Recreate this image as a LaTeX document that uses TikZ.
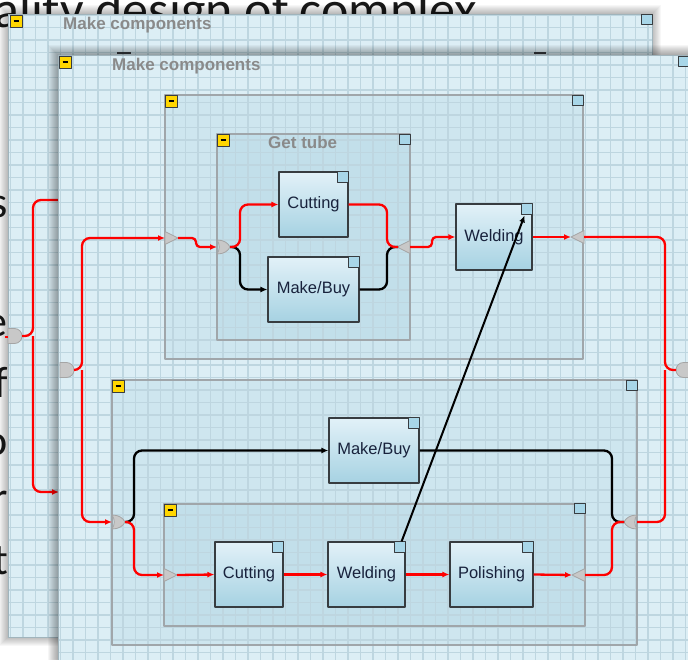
\documentclass[tikz,border=0pt]{standalone}
\usepackage{fontspec}
\setmainfont{Liberation Sans}
\newfontfamily\slidefont{Carlito}
\usetikzlibrary{arrows.meta,calc}
\definecolor{winfill}{RGB}{220,238,245}
\definecolor{gridc}{RGB}{190,214,224}
\definecolor{winline}{RGB}{160,180,188}
\definecolor{grpov}{RGB}{143,195,214}
\definecolor{grpline}{RGB}{160,166,170}
\definecolor{boxtop}{RGB}{226,241,248}
\definecolor{boxbot}{RGB}{166,210,226}
\definecolor{boxline}{RGB}{55,60,64}
\definecolor{sqfill}{RGB}{168,214,232}
\definecolor{yel}{RGB}{255,214,0}
\definecolor{gatefill}{RGB}{200,200,200}
\definecolor{gateline}{RGB}{165,165,165}
\definecolor{titlec}{RGB}{138,138,138}
\definecolor{txtc}{RGB}{24,34,60}
\definecolor{flow}{RGB}{255,0,0}
\definecolor{slidetxt}{RGB}{25,25,25}
\begin{document}
\begin{tikzpicture}[x=1pt,y=-1pt,line join=round,
  win/.style={fill=winfill,draw=winline,line width=0.8pt},
  grp/.style={fill=grpov,fill opacity=0.18,draw=none},
  grpb/.style={draw=grpline,line width=1.4pt},
  act/.style={draw=boxline,line width=1.2pt,top color=boxtop,bottom color=boxbot,
    minimum height=65pt,inner sep=0pt,font=\fontsize{16.5}{18}\selectfont,text=txtc},
  sq/.style={draw=boxline,fill=sqfill,line width=1pt},
  redf/.style={draw=flow,line width=2.3pt,rounded corners=8pt},
  blkf/.style={draw=black,line width=2.3pt,rounded corners=8pt},
  tip/.style={-{Latex[length=7pt,width=6pt]}},
  gate/.style={fill=gatefill,draw=gateline,line width=0.8pt},
  ttl/.style={font=\bfseries\fontsize{17}{19}\selectfont,text=titlec,inner sep=0pt,anchor=base west},
  slide/.style={font=\slidefont\fontsize{44}{50}\selectfont,text=slidetxt,inner sep=0pt,anchor=base east},
  trir/.pic={\path[gate] (0,-6.5) -- (13,0) -- (0,6.5) -- cycle;},
  gor/.pic={\path[gate] (0,-7) .. controls (7,-7) and (11,-4) .. (13,0) .. controls (11,4) and (7,7) .. (0,7) .. controls (3,3) and (3,-3) .. (0,-7) -- cycle;},
  dport/.pic={\path[gate] (0,-7.5) -- (6.5,-7.5) arc[start angle=-90,end angle=90,radius=7.5] -- (0,7.5) -- cycle;},
  ymin/.pic={\draw[fill=yel,draw=boxline,line width=1pt] (0,0) rectangle (12,12);
             \draw[line width=1.3pt] (3.5,6) -- (8.5,6);},
]
\fill[white] (0,0) rectangle (688,659);
\useasboundingbox (0,0) rectangle (688,659);

% ---------- slide text behind ----------
\node[anchor=base west,inner sep=0pt,font=\slidefont\fontsize{52}{60}\selectfont,text=slidetxt] (stitle) at (-6,27) {ality design of complex};
\node[slide] (ls) at (8,217) {s};
\node[slide] (le) at (8,336) {e};
\node[slide] (lf) at (8,397) {f};
\node[slide] (lo) at (8,455) {o};
\node[slide] (lr) at (8,512) {r};
\node[slide] (lt) at (8,574) {t};

% ---------- back window ----------
\foreach \i in {1,...,9} {\fill[black,opacity=0.032] (8-\i,14-\i) rectangle (652+\i,637+\i);}
\draw[win] (8,14) rectangle (652,637);
\begin{scope}
  \clip (8,14) rectangle (652,637);
  \foreach \x in {10.5,23,...,660} {\draw[gridc,line width=1.1pt] (\x,14) -- (\x,637);}
  \foreach \y in {15,27.5,...,640} {\draw[gridc,line width=1.1pt] (8,\y) -- (652,\y);}
\end{scope}
\draw[winline,line width=0.8pt] (8,14) rectangle (652,637);
\pic at (10,15) {ymin};
\draw[sq] (641.5,14) rectangle (652,24.5);
\node[ttl] (btitle) at (63,29) {Make components};
\draw[boxline,line width=1.6pt] (117,53) -- (131,53);
\draw[boxline,line width=1.6pt] (534,53) -- (546,53);
% back flows
\pic at (8,336) {dport};
\coordinate (bP) at (22,336);
\coordinate (bJ) at (33,336);
\coordinate (bUp) at (62,200);
\coordinate (bDn) at (59,492);
\coordinate (bStub) at (5,337);
\draw[flow,line width=1.6pt] (bStub) -- (8,337);
\draw[redf] (bP) -- (bJ) |- (bUp);
\draw[redf,tip] (bJ) |- (bDn);

% ---------- front window ----------
\foreach \i in {1,...,10} {\fill[black,opacity=0.035] (58-\i,55-\i) rectangle (700,670);}
\fill[winfill] (58,55) rectangle (692,665);
% group fills
\fill[grp] (165,95) rectangle (583,359);
\fill[grp] (217,134) rectangle (410,340);
\fill[grp] (112,380) rectangle (637,645);
\fill[grp] (164,504) rectangle (585,626);
\begin{scope}
  \clip (58,55) rectangle (692,665);
  \foreach \x in {60.5,73,...,692} {\draw[gridc,line width=1.1pt] (\x,55) -- (\x,665);}
  \foreach \y in {65,77.5,...,665} {\draw[gridc,line width=1.1pt] (58,\y) -- (692,\y);}
\end{scope}
\draw[winline,line width=0.8pt] (58,55) rectangle (692,665);
% group borders
\draw[grpb] (165,95) rectangle (583,359);
\draw[grpb] (217,134) rectangle (410,340);
\draw[grpb] (112,380) rectangle (637,645);
\draw[grpb] (164,504) rectangle (585,626);
% minus and corner squares
\pic at (59,56) {ymin};
\pic at (165,95) {ymin};
\pic at (217,134) {ymin};
\pic at (112,380) {ymin};
\pic at (164,504) {ymin};
\draw[sq] (678,56) rectangle (689,66.5);
\draw[sq] (572.5,95) rectangle (583,105.5);
\draw[sq] (399.5,134) rectangle (410,144.5);
\draw[sq] (626.5,380) rectangle (637,390.5);
\draw[sq] (574.5,503) rectangle (585,513.5);
% titles
\node[ttl] (ftitle) at (112,70) {Make components};
\node[ttl] (gtitle) at (268,148) {Get tube};

% activities
\node[act,minimum width=69pt] (cut1) at (313.5,204.5) {Cutting};
\node[act,minimum width=91pt] (mb1) at (313.5,289.5) {Make/Buy};
\node[act,minimum width=76pt,minimum height=66pt] (wel1) at (494,237) {Welding};
\node[act,minimum width=90pt] (mb2) at (374,450.5) {Make/Buy};
\node[act,minimum width=68pt] (cut2) at (249,574.5) {Cutting};
\node[act,minimum width=77pt] (wel2) at (366.5,574.5) {Welding};
\node[act,minimum width=83pt] (pol) at (491.5,574.5) {Polishing};
\foreach \n in {cut1,mb1,wel1,mb2,cut2,wel2,pol}
  {\draw[sq] ($(\n.north east)+(-11,0)$) rectangle ($(\n.north east)+(0,11)$);}

% gates and ports
\pic at (60,370) {dport};
\pic[xscale=-1] at (690,370) {dport};
\pic at (165,238) {trir};
\pic at (217,247) {gor};
\pic[xscale=-1] at (410,247) {trir};
\pic[xscale=-1] at (584,237) {trir};
\pic at (112,522) {gor};
\pic at (164,575) {trir};
\pic[xscale=-1] at (585,575) {trir};
\pic[xscale=-1] at (637,522) {gor};

\coordinate (pLo) at (74,370);
\coordinate (jL) at (82,370);
\coordinate (t1in) at (165,238);
\coordinate (t1out) at (178,238);
\coordinate (g1in) at (217,247);
\coordinate (g1out) at (230,247);
\coordinate (j1) at (240,247);
\coordinate (j2) at (387,247);
\coordinate (t2in) at (398,247);
\coordinate (t2out) at (410,247);
\coordinate (t3in) at (571,237);
\coordinate (t3out) at (584,237);
\coordinate (jR) at (665,370);
\coordinate (pRin) at (676,370);
\coordinate (g2in) at (112,522);
\coordinate (g2out) at (125,522);
\coordinate (j3) at (134,522);
\coordinate (t4in) at (164,575);
\coordinate (t4out) at (177,575);
\coordinate (t5in) at (572,575);
\coordinate (t5out) at (585,575);
\coordinate (j4) at (612,522);
\coordinate (g3in) at (624,522);
\coordinate (g3out) at (637,522);

% upper flows
\draw[redf,tip] (pLo) -- (jL) |- (t1in);
\draw[redf,tip] (jL) |- (g2in);
\draw[redf,tip,rounded corners=4pt] (t1out) -- ++(18,0) |- (g1in);
\draw[blkf,tip] (g1out) -- (j1) |- (mb1.west);
\draw[redf,tip] (g1out) -- (j1) |- (cut1.west);
\draw[blkf] (mb1.east) -| (j2) -- (t2in);
\draw[redf] (cut1.east) -| (j2) -- (t2in);
\draw[redf,tip,rounded corners=4pt] (t2out) -- ++(22,0) |- (wel1.west);
\draw[redf,tip] (wel1.east) -- (t3in);
\draw[redf] (t3out) -| (jR) -- (pRin);
% lower flows
\draw[blkf,tip] (g2out) -- (j3) |- (mb2.west);
\draw[redf,tip] (g2out) -- (j3) |- (t4in);
\draw[redf,tip] (t4out) -- (cut2.west);
\draw[redf,tip] (cut2.east) -- (wel2.west);
\draw[redf,tip] (wel2.east) -- (pol.west);
\draw[redf,tip] (pol.east) -- (t5in);
\draw[blkf] (mb2.east) -| (j4) -- (g3in);
\draw[redf] (t5out) -| (j4) -- (g3in);
\draw[redf] (g3out) -| (jR);
% cross link
\draw[black,line width=2pt,tip] ($(wel2.north east)+(-4,0)$) -- ($(wel1.north east)+(-8,12)$);
\end{tikzpicture}
\end{document}
